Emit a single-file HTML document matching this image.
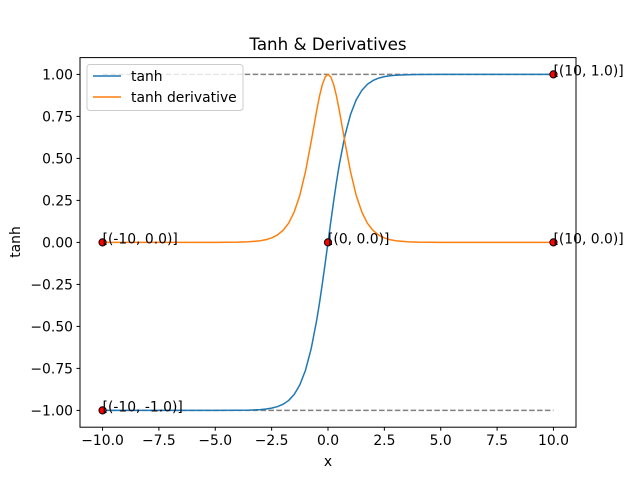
<!DOCTYPE html>
<html><head><meta charset="utf-8"><style>
body{margin:0;background:#fff}
svg{font-family:"DejaVu Sans","Liberation Sans",sans-serif}
</style></head><body>
<svg id="chart" width="640" height="480"></svg>
<script>
const xs=[-10,-8,-6,-5,-4,-3.5,-3,-2.75,-2.5,-2.25,-2,-1.75,-1.5,-1.25,-1,-0.75,-0.5,-0.375,-0.25,-0.125,0,0.125,0.25,0.375,0.5,0.75,1,1.25,1.5,1.75,2,2.25,2.5,2.75,3,3.5,4,5,6,8,10];
const tanhVals=[-1,-1,-1,-0.9999,-0.9993,-0.9982,-0.9951,-0.9919,-0.9866,-0.9780,-0.9640,-0.9414,-0.9051,-0.8483,-0.7616,-0.6351,-0.4621,-0.3584,-0.2449,-0.1244,0,0.1244,0.2449,0.3584,0.4621,0.6351,0.7616,0.8483,0.9051,0.9414,0.9640,0.9780,0.9866,0.9919,0.9951,0.9982,0.9993,0.9999,1,1,1];
const derivVals=[0,0,0,0.0002,0.0013,0.0036,0.0099,0.0163,0.0266,0.0435,0.0707,0.1138,0.1807,0.2805,0.4200,0.5966,0.7864,0.8716,0.9400,0.9845,1,0.9845,0.9400,0.8716,0.7864,0.5966,0.4200,0.2805,0.1807,0.1138,0.0707,0.0435,0.0266,0.0163,0.0099,0.0036,0.0013,0.0002,0,0,0];
const ptX=[10,-10,-10,0,10];
const ptY=[1,0,-1,0,0];
const ptLabels=["[(10, 1.0)]","[(-10, 0.0)]","[(-10, -1.0)]","[(0, 0.0)]","[(10, 0.0)]"];
const xTicks=[-10,-7.5,-5,-2.5,0,2.5,5,7.5,10];
const yTicks=[-1,-0.75,-0.5,-0.25,0,0.25,0.5,0.75,1];

const L=80,R=576,T=57.6,B=427.2;
const sx=v=>L+(v+11)/22*(R-L);
const sy=v=>B-(v+1.1)/2.2*(B-T);
const svg=document.getElementById('chart');
const NS='http://www.w3.org/2000/svg';
function mk(tag,attrs,text){const e=document.createElementNS(NS,tag);for(const k in attrs)e.setAttribute(k,attrs[k]);if(text!==undefined)e.textContent=text;svg.appendChild(e);return e;}
const fmt=(v,d)=>(v<0?'\u2212':'')+Math.abs(v).toFixed(d);

let e;
e=mk('text',{x:328,y:50,'text-anchor':'middle','font-size':16.7},'Tanh & Derivatives');



[1,-1].forEach(v=>{
 e=mk('line',{x1:sx(-10),x2:sx(10),y1:sy(v),y2:sy(v),stroke:'#808080','stroke-width':1.5,'stroke-dasharray':'5.5,2.4'});
 
 
});

function path(vals,color,name){
 const d=xs.map((x,i)=>(i?'L':'M')+sx(x).toFixed(2)+','+sy(vals[i]).toFixed(2)).join(' ');
 e=mk('path',{d:d,fill:'none',stroke:color,'stroke-width':1.5,'stroke-linejoin':'round'});
 
 
}
path(tanhVals,'#1f77b4','tanh-line');
path(derivVals,'#ff7f0e','tanh-derivative-line');

ptX.forEach((x,i)=>{
 e=mk('circle',{cx:sx(x),cy:sy(ptY[i]),r:3.6,fill:'red',stroke:'#000','stroke-width':1});
 
 
 e=mk('text',{x:sx(x),y:sy(ptY[i])+1,'font-size':13.9},ptLabels[i]);
 
 
});

e=mk('rect',{x:L,y:T,width:R-L,height:B-T,fill:'none',stroke:'#000','stroke-width':1});



xTicks.forEach(v=>{
 e=mk('line',{x1:sx(v),x2:sx(v),y1:B,y2:B+3.5,stroke:'#000'});
 
 
 e=mk('text',{x:sx(v),y:B+18,'text-anchor':'middle','font-size':13.9},fmt(v,1));
 
 
});
yTicks.forEach(v=>{
 e=mk('line',{x1:L-3.5,x2:L,y1:sy(v),y2:sy(v),stroke:'#000'});
 
 
 e=mk('text',{x:L-7,y:sy(v)+5,'text-anchor':'end','font-size':13.9},fmt(v,2));
 
 
});
e=mk('text',{x:328,y:466,'text-anchor':'middle','font-size':13.9},'x');


e=mk('text',{x:20,y:242,'text-anchor':'middle','font-size':13.9,transform:'rotate(-90 20 242)'},'tanh');



e=mk('rect',{x:87,y:64.5,width:156,height:46,rx:3,fill:'#fff','fill-opacity':0.8,stroke:'#ccc'});


[['tanh','#1f77b4'],['tanh derivative','#ff7f0e']].forEach((it,i)=>{
 const y=76+i*21;
 e=mk('line',{x1:93,x2:121,y1:y,y2:y,stroke:it[1],'stroke-width':1.5});
 
 
 e=mk('text',{x:131,y:y+5,'font-size':13.9},it[0]);
 
 
});
</script>
</body></html>
